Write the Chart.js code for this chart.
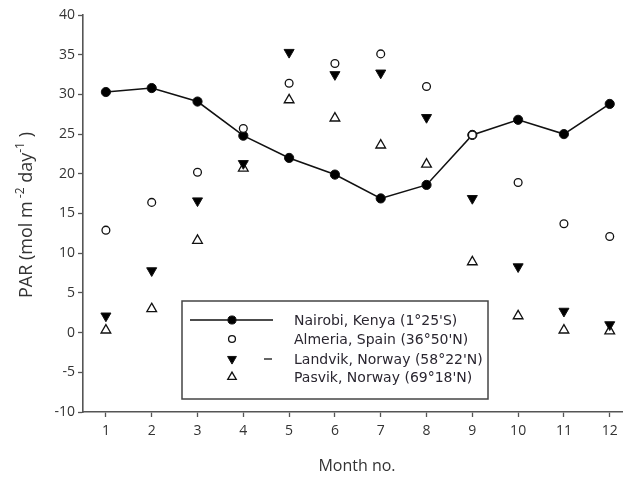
<!DOCTYPE html>
<html><head><meta charset="utf-8">
<script src="https://cdn.jsdelivr.net/npm/chart.js@4/dist/chart.umd.min.js"></script>
<style>html,body{margin:0;padding:0;background:#fff}#wrap{width:629px;height:480px;position:relative}</style>
</head><body><div id="wrap"><canvas id="c" width="629" height="480"></canvas></div>
<script>
const months = [1, 2, 3, 4, 5, 6, 7, 8, 9, 10, 11, 12];
const yTicks = [-10, -5, 0, 5, 10, 15, 20, 25, 30, 35, 40];
const seriesNames = ["Nairobi, Kenya (1°25'S)", "Almeria, Spain (36°50'N)", "Landvik, Norway (58°22'N)", "Pasvik, Norway (69°18'N)"];
const nairobi = [30.3, 30.8, 29.1, 24.8, 22.0, 19.9, 16.9, 18.6, 24.9, 26.8, 25.0, 28.8];
const almeria = [12.9, 16.4, 20.2, 25.7, 31.4, 33.9, 35.1, 31.0, 24.9, 18.9, 13.7, 12.1];
const landvik = [2.1, 7.8, 16.6, 21.3, 35.3, 32.5, 32.7, 27.1, 16.9, 8.3, 2.7, 1.0];
const pasvik = [0.3, 3.0, 11.6, 20.7, 29.3, 27.0, 23.6, 21.2, 8.9, 2.1, 0.3, 0.2];
const xTitle = "Month no.";

const toXY = arr => months.map((m, i) => ({x: m, y: arr[i]}));

const styles = [
  {pointStyle: 'circle', radius: 4.6, rotation: 0, bg: '#000', lw: 1, line: true},
  {pointStyle: 'circle', radius: 3.9, rotation: 0, bg: '#fff', lw: 1.3, line: false},
  {pointStyle: 'triangle', radius: 5.8, rotation: 180, bg: '#000', lw: 1, line: false},
  {pointStyle: 'triangle', radius: 5.6, rotation: 0, bg: '#fff', lw: 1.3, line: false}
];
const dataArrs = [nairobi, almeria, landvik, pasvik];
const orders = [1, 0, 2, 3];

const datasets = dataArrs.map((arr, i) => ({
  label: seriesNames[i],
  data: toXY(arr),
  showLine: styles[i].line,
  borderColor: '#111',
  borderWidth: styles[i].line ? 1.6 : 0,
  pointStyle: styles[i].pointStyle,
  pointRadius: styles[i].radius,
  pointRotation: styles[i].rotation,
  pointBackgroundColor: styles[i].bg,
  pointBorderColor: '#111',
  pointBorderWidth: styles[i].lw,
  tension: 0,
  order: orders[i]
}));

const decorations = {
  id: 'decorations',
  afterDraw(chart) {
    const ctx = chart.ctx;
    ctx.save();
    // X title
    ctx.fillStyle = '#333';
    ctx.font = '16px "Open Sans"';
    ctx.textAlign = 'center';
    ctx.textBaseline = 'middle';
    ctx.fillText(xTitle, 357, 466);
    // Y title with superscripts
    const parts = [
      {t: 'PAR (mol m', sup: false},
      {t: ' -2', sup: true},
      {t: ' day', sup: false},
      {t: '-1', sup: true},
      {t: ' )', sup: false}
    ];
    const fN = '18px "Open Sans"', fS = '12px "Open Sans"';
    let total = 0;
    parts.forEach(p => { ctx.font = p.sup ? fS : fN; p.w = ctx.measureText(p.t).width; total += p.w; });
    ctx.translate(32, 215);
    ctx.rotate(-Math.PI / 2);
    ctx.textAlign = 'left';
    ctx.textBaseline = 'alphabetic';
    let cx = -total / 2;
    parts.forEach(p => {
      ctx.font = p.sup ? fS : fN;
      ctx.fillText(p.t, cx, p.sup ? -8 : 0);
      cx += p.w;
    });
    ctx.restore();

    // Legend box
    ctx.save();
    ctx.strokeStyle = '#444';
    ctx.lineWidth = 1.5;
    ctx.strokeRect(182, 301, 306, 98);
    const rows = [320, 339, 359, 377];
    const mx = 232;
    ctx.font = '14px "DejaVu Sans"';
    ctx.textBaseline = 'middle';
    ctx.textAlign = 'left';
    rows.forEach((ry, i) => {
      const s = styles[i];
      ctx.strokeStyle = '#111';
      if (i === 0) {
        ctx.lineWidth = 1.6;
        ctx.beginPath(); ctx.moveTo(190, ry); ctx.lineTo(273, ry); ctx.stroke();
      }
      if (i === 2) {
        ctx.lineWidth = 1.3;
        ctx.beginPath(); ctx.moveTo(264, ry); ctx.lineTo(272, ry); ctx.stroke();
      }
      ctx.fillStyle = s.bg;
      ctx.strokeStyle = '#111';
      ctx.lineWidth = s.lw;
      Chart.helpers.drawPoint(ctx, {pointStyle: s.pointStyle, radius: s.radius * 0.88, rotation: s.rotation, borderWidth: s.lw}, mx, ry);
      ctx.fillStyle = '#2a2630';
      ctx.fillText(seriesNames[i], 294, ry + 1);
    });
    ctx.restore();
  }
};

new Chart(document.getElementById('c'), {
  type: 'scatter',
  data: {datasets},
  options: {
    responsive: false,
    animation: false,
    devicePixelRatio: 1,
    layout: {padding: {top: 15, right: 0, left: 0, bottom: 0}},
    plugins: {legend: {display: false}, tooltip: {enabled: false}},
    scales: {
      x: {
        type: 'linear', min: 0.5, max: 12.27,
        afterBuildTicks: s => { s.ticks = months.map(v => ({value: v})); },
        afterFit: s => { s.height = 68; },
        grid: {display: true, drawOnChartArea: false, drawTicks: true, tickLength: 5, color: '#555', tickWidth: 1.3},
        border: {display: true, color: '#555', width: 1.6},
        ticks: {color: '#333', font: {family: '"Open Sans"', size: 14}, padding: 6, maxRotation: 0}
      },
      y: {
        type: 'linear', min: -10, max: 40,
        afterBuildTicks: s => { s.ticks = yTicks.map(v => ({value: v})); },
        afterFit: s => { s.width = 83; },
        grid: {display: true, drawOnChartArea: false, drawTicks: true, tickLength: 5, color: '#555', tickWidth: 1.3},
        border: {display: true, color: '#555', width: 1.6},
        ticks: {color: '#333', font: {family: '"Open Sans"', size: 14}, padding: 3}
      }
    }
  },
  plugins: [decorations]
});
</script>
</body></html>
